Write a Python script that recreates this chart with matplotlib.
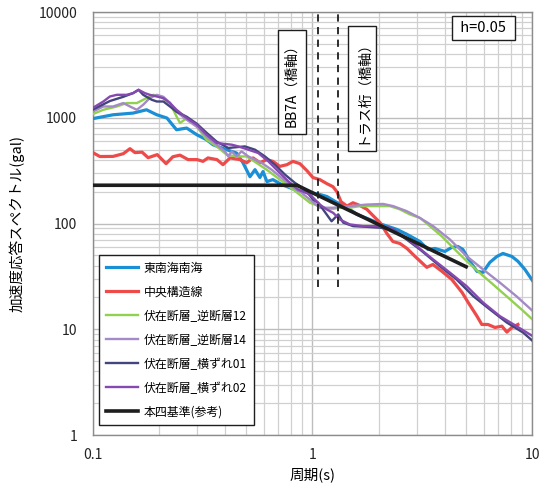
import matplotlib
matplotlib.use("Agg")
import matplotlib.pyplot as plt
from matplotlib.ticker import LogLocator, NullFormatter, FixedLocator, FixedFormatter

plt.rcParams['font.family'] = ['Noto Sans CJK JP', 'DejaVu Sans']

# 東南海南海
t_blue = [0.1, 0.124, 0.153, 0.176, 0.196, 0.218, 0.241, 0.268, 0.298, 0.330, 0.353, 0.407,
          0.452, 0.483, 0.520, 0.548, 0.577, 0.596, 0.621, 0.661, 0.726, 0.833, 0.925, 1.081,
          1.164, 1.292, 1.376, 1.593, 1.824, 2.07, 2.42, 2.69, 3.08, 3.35, 3.61, 4.0, 4.3,
          4.58, 4.83, 5.2, 5.6, 5.96, 6.41, 6.9, 7.35, 8.07, 8.6, 9.25, 10.0]
a_blue = [980, 1067, 1107, 1190, 1067, 994, 770, 799, 691, 620, 556, 499,
          464, 376, 277, 323, 272, 310, 249, 260, 233, 209, 200, 188,
          180, 158, 151, 122, 109, 98, 88, 79, 67.6, 56.9, 58.1, 54.4, 59.4,
          60.7, 56.9, 43.9, 35.3, 34.5, 42.9, 48.8, 52.1, 48.8, 43.9, 36.8, 29.0]

# 中央構造線
t_red = [0.1, 0.108, 0.124, 0.138, 0.148, 0.156, 0.168, 0.179, 0.197, 0.216, 0.232, 0.25,
         0.272, 0.299, 0.318, 0.335, 0.368, 0.392, 0.422, 0.468, 0.503, 0.537, 0.577, 0.621,
         0.661, 0.711, 0.766, 0.815, 0.877, 0.944, 1.005, 1.081, 1.164, 1.239, 1.292, 1.348,
         1.435, 1.528, 1.644, 1.77, 1.884, 2.03, 2.18, 2.32, 2.5, 2.69, 2.93, 3.31, 3.53,
         3.88, 4.3, 4.79, 5.1, 5.6, 5.89, 6.28, 6.76, 7.27, 7.66, 8.07, 8.6]
a_red = [470, 430, 431, 457, 510, 468, 473, 419, 448, 368, 428, 443,
         402, 402, 387, 417, 402, 360, 417, 402, 376, 417, 376, 402,
         387, 347, 360, 387, 368, 316, 272, 260, 238, 223, 200, 161,
         146, 157, 148, 136, 119, 102, 80.5, 67.6, 64.7, 58.1, 48.8, 38.5, 41.0,
         35.3, 29.6, 22.3, 18.0, 13.3, 11.1, 11.1, 10.4, 10.7, 9.4, 10.4, 11.1]

# 伏在断層_逆断層12
t_green = [0.1, 0.112, 0.129, 0.143, 0.159, 0.176, 0.189, 0.203, 0.225, 0.241, 0.25, 0.268,
           0.298, 0.33, 0.367, 0.407, 0.452, 0.502, 0.557, 0.619, 0.711, 0.818, 0.975, 1.12,
           1.2, 1.333, 1.48, 1.644, 2.03, 2.25, 2.5, 2.77, 3.08, 3.35, 3.87, 4.44, 5.1,
           5.87, 6.76, 7.76, 8.93, 10.0]
a_green = [1080, 1190, 1278, 1377, 1377, 1534, 1648, 1589, 1377, 1029, 891, 994,
           828, 620, 536, 448, 431, 431, 374, 323, 260, 209, 157, 141,
           136, 141, 141, 146, 146, 146, 136, 122, 113, 98, 75.9, 56.9, 42.9,
           33.0, 25.6, 19.9, 15.4, 12.4]

# 伏在断層_逆断層14
t_lpur = [0.1, 0.112, 0.124, 0.138, 0.148, 0.159, 0.170, 0.182, 0.196, 0.21, 0.225, 0.241,
          0.268, 0.298, 0.33, 0.367, 0.40, 0.414, 0.43, 0.452, 0.476, 0.511, 0.548, 0.588,
          0.652, 0.724, 0.804, 0.893, 0.975, 1.081, 1.243, 1.48, 1.763, 2.1, 2.33, 2.68,
          3.08, 3.54, 4.22, 5.02, 5.97, 7.12, 8.47, 10.0]
a_lpur = [1140, 1278, 1278, 1377, 1278, 1190, 1327, 1534, 1648, 1578, 1386, 1140,
          958, 822, 662, 556, 481, 431, 481, 431, 481, 431, 402, 374,
          323, 270, 225, 195, 168, 141, 141, 146, 151, 153, 146, 131,
          113, 94.4, 70.6, 49.2, 36.8, 27.6, 20.5, 15.0]

# 伏在断層_横ずれ01
t_navy = [0.1, 0.12, 0.138, 0.153, 0.162, 0.170, 0.186, 0.196, 0.21, 0.225, 0.241, 0.268,
          0.298, 0.33, 0.367, 0.414, 0.493, 0.548, 0.608, 0.675, 0.75, 0.833, 0.925, 1.008,
          1.063, 1.222, 1.31, 1.38, 1.532, 1.763, 2.03, 2.33, 2.68, 3.08, 3.8, 4.52, 5.38,
          6.41, 7.64, 9.08, 10.0]
a_navy = [1190, 1440, 1578, 1710, 1837, 1648, 1479, 1425, 1425, 1278, 1140, 1023,
          878, 722, 594, 518, 536, 499, 431, 360, 290, 242, 209, 168,
          157, 105, 122, 102, 94.4, 93, 91.2, 87.8, 70.6, 56.9, 39.5, 29.6, 20.6,
          15.4, 11.6, 9.3, 7.8]

# 伏在断層_横ずれ02
t_pur = [0.1, 0.112, 0.12, 0.129, 0.143, 0.153, 0.162, 0.173, 0.182, 0.196, 0.21, 0.225,
         0.241, 0.268, 0.298, 0.33, 0.367, 0.43, 0.46, 0.511, 0.567, 0.63, 0.699, 0.776,
         0.862, 0.975, 1.081, 1.16, 1.243, 1.333, 1.48, 1.702, 1.96, 2.25, 2.59, 2.98,
         3.54, 4.22, 5.02, 5.97, 7.12, 8.47, 10.0]
a_pur = [1234, 1425, 1589, 1648, 1648, 1710, 1837, 1710, 1648, 1589, 1534, 1377,
         1190, 994, 859, 691, 577, 556, 536, 499, 464, 387, 311, 251,
         209, 188, 151, 136, 126, 109, 98, 94.4, 94.4, 91.2, 75.9, 61.1,
         45.7, 34.3, 25.6, 17.9, 13.3, 10.7, 8.65]

# 本四基準(参考)
t_std = [0.1, 0.85, 5.0]
a_std = [230, 230, 39]

labels = ['東南海南海', '中央構造線', '伏在断層_逆断層12', '伏在断層_逆断層14',
          '伏在断層_横ずれ01', '伏在断層_横ずれ02', '本四基準(参考)']

period_marks = [1.06, 1.31]
mark_range = [25, 10000]

fig = plt.figure(figsize=(5.41, 4.88), dpi=100)
ax = fig.add_axes([0.171, 0.1086, 0.813, 0.8668])

ax.plot(t_blue, a_blue, color='#1a8fd6', lw=2.3, label=labels[0], zorder=3)
ax.plot(t_red, a_red, color='#ef4a4a', lw=2.3, label=labels[1], zorder=3)
ax.plot(t_green, a_green, color='#92d050', lw=1.7, label=labels[2], zorder=3)
ax.plot(t_lpur, a_lpur, color='#a48ac6', lw=1.7, label=labels[3], zorder=3)
ax.plot(t_navy, a_navy, color='#43457f', lw=1.7, label=labels[4], zorder=3)
ax.plot(t_pur, a_pur, color='#8549b0', lw=1.7, label=labels[5], zorder=3)
ax.plot(t_std, a_std, color='#1e1e1e', lw=2.6, label=labels[6], zorder=4)

for p in period_marks:
    ax.plot([p, p], mark_range, color='#1e1e1e', lw=1.3, ls=(0, (4, 3)), zorder=4)

ax.set_xscale('log')
ax.set_yscale('log')
ax.set_xlim(0.1, 10)
ax.set_ylim(1, 10000)

ax.xaxis.set_major_locator(FixedLocator([0.1, 1, 10]))
ax.xaxis.set_major_formatter(FixedFormatter(['0.1', '1', '10']))
ax.xaxis.set_minor_locator(LogLocator(base=10, subs=range(2, 10)))
ax.xaxis.set_minor_formatter(NullFormatter())
ax.yaxis.set_major_locator(FixedLocator([1, 10, 100, 1000, 10000]))
ax.yaxis.set_major_formatter(FixedFormatter(['1', '10', '100', '1000', '10000']))
ax.yaxis.set_minor_locator(LogLocator(base=10, subs=range(2, 10)))
ax.yaxis.set_minor_formatter(NullFormatter())

ax.grid(True, which='major', color='#bdbdbd', lw=1.0, zorder=0)
ax.grid(True, which='minor', color='#d0d0d0', lw=0.9, zorder=0)
ax.set_axisbelow(True)
ax.tick_params(which='both', length=0, labelsize=10, colors='#222222')
ax.tick_params(axis='y', pad=11)
ax.tick_params(axis='x', pad=9)
for s in ax.spines.values():
    s.set_color('#8c8c8c')
    s.set_linewidth(1.0)

ax.set_xlabel('周期(s)', fontsize=10.5, labelpad=4)
ax.set_ylabel('加速度応答スペクトル(gal)', fontsize=10.5, labelpad=10)

box = dict(boxstyle='square,pad=0.5', fc='white', ec='#1e1e1e', lw=1.0)
ax.text(0.453, 0.835, 'BB7A（橋軸）', rotation=90, transform=ax.transAxes,
        ha='center', va='center', fontsize=10, bbox=box, zorder=5)
ax.text(0.6125, 0.82, 'トラス桁（橋軸）', rotation=90, transform=ax.transAxes,
        ha='center', va='center', fontsize=10, bbox=box, zorder=5)
ax.text(0.889, 0.963, ' h=0.05 ', transform=ax.transAxes, ha='center', va='center',
        fontsize=10.5, bbox=dict(boxstyle='square,pad=0.35', fc='white', ec='#1e1e1e', lw=1.0),
        zorder=5)

leg = ax.legend(loc='upper left', bbox_to_anchor=(0.015, 0.4255), borderaxespad=0,
                fontsize=8.6, handlelength=2.7, labelspacing=0.92, fancybox=False,
                framealpha=1, edgecolor='#1e1e1e', borderpad=0.55, handletextpad=0.5)
leg.get_frame().set_linewidth(1.0)
leg.set_zorder(6)

fig.savefig('out.png', dpi=100)
